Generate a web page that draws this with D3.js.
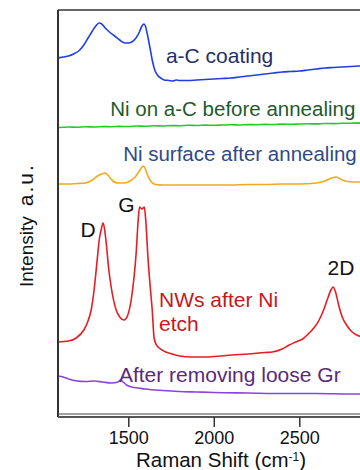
<!DOCTYPE html>
<html>
<head>
<meta charset="utf-8">
<script src="https://cdn.jsdelivr.net/npm/d3@7/dist/d3.min.js"></script>
<style>
  html, body { margin: 0; padding: 0; background: #fff; }
  svg { display: block; font-family: "Liberation Sans", Arial, sans-serif; }
</style>
</head>
<body>
<svg id="chart" width="360" height="470"></svg>
<script>
// ---- Data (Raman shift in cm^-1, intensity in stacked a.u.) ----
const aCShift = [1089,1120,1150,1180,1210,1240,1265,1290,1310,1330,1345,1365,1390,1420,1450,1480,1500,1520,1545,1565,1580,1592,1600,1610,1625,1640,1655,1670,1690,1710,1740,1760,1780,1800,1850,1900,1950,2000,2050,2100,2150,2200,2250,2300,2350,2400,2450,2500,2550,2600,2650,2700,2750,2800,2850,2900];
const aCInt   = [358,359,360,362,365,371,378,385,390,393,392,388,384,380,376,373,373,374,378,384,390,392,390,383,370,356,346,341,338,336,335.5,335,336,335.5,335.5,336,336.5,337,337.5,338,339,340,341,342,343,344,344.5,345,346,347,348,348.5,349,349.5,350,350.5];

const niShift = [1089,1150,1200,1250,1300,1350,1400,1450,1500,1550,1600,1650,1700,1750,1800,1850,1900,1950,2000,2050,2100,2150,2200,2250,2300,2350,2400,2450,2500,2550,2600,2650,2700,2750,2800,2850,2900];
const niInt   = [288.5,289,288.7,289.2,289,289.4,289.3,289.6,289.5,290,289.8,290.2,290,290.4,290.3,290.8,290.5,290.9,290.7,291,291.2,291,291.4,291.3,291.6,291.5,291.9,291.7,292,292.2,292.1,292.5,292.4,292.7,292.8,292.9,293];

const annShift = [1089,1150,1200,1250,1290,1320,1345,1365,1385,1410,1440,1480,1510,1540,1565,1580,1590,1600,1615,1635,1660,1700,1800,1900,2000,2100,2200,2300,2400,2500,2600,2650,2690,2715,2740,2780,2850,2900];
const annInt   = [232,232,232.5,233,236,240,242,243,240,235,233,233,235,239,245,249,250,247,240,234,231.5,231,231,231,231,231,231.5,231.5,232,232,233,235,238,239,237,234.5,234,234];

const nwShift = [1089,1150,1195,1240,1260,1283,1300,1318,1330,1341,1353,1362,1371,1385,1400,1429,1450,1476,1495,1517,1535,1546,1558,1566,1580,1594,1602,1616,1630,1640,1651,1665,1681,1720,1757,1800,1874,1950,2000,2108,2200,2300,2342,2400,2441,2480,2520,2558,2590,2616,2640,2663,2685,2698,2712,2733,2751,2780,2809,2850,2900];
const nwInt   = [74,75,78,86,93,106,126,156,176,186,193,186,173,148,129,106,99,96,100,116,141,163,196,209,207,209,196,156,126,106,78,71,68,64,62,60,59,59,59.5,61,62,63.5,64,67,71,74,77,83,89,96,105,116,126,129,124,109,99,90,84,80,78];

const grShift = [1089,1120,1150,1200,1250,1300,1350,1400,1440,1455,1470,1490,1520,1560,1600,1700,1800,1900,2000,2200,2400,2600,2800,2900];
const grInt   = [40,39,37,35,34.5,35,34,33,34,36,34,31,29,28,27,25.5,24.5,24,23.5,23,22.5,22.5,22,22];

const xTicks = [1500, 2000, 2500];

const seriesLabels = [
  {text: "a-C coating", x: 1720, y: 353, color: "#1f3068", size: 21},
  {text: "Ni on a-C before annealing", x: 1395, y: 300, color: "#1e5a2e", size: 20.5},
  {text: "Ni surface after annealing", x: 1470, y: 255, color: "#2d4a8a", size: 20.5},
  {text: "NWs after Ni", x: 1680, y: 109, color: "#c8161c", size: 21},
  {text: "etch", x: 1680, y: 85, color: "#c8161c", size: 21},
  {text: "After removing loose Gr", x: 1445, y: 34, color: "#5a2a7a", size: 21}
];
const peakLabels = [
  {text: "D", x: 1220, y: 179},
  {text: "G", x: 1442, y: 204},
  {text: "2D", x: 2665, y: 141}
];

// ---- Chart ----
const svg = d3.select("#chart");
const plotLeft = 58, plotTop = 10, plotBottom = 417;

const x = d3.scaleLinear().domain([1089, 2900]).range([plotLeft, plotLeft + (2900 - 1089) * 0.171]);
const y = d3.scaleLinear().domain([0, 406]).range([416, 10]);

const series = [
  {sx: aCShift, sy: aCInt, color: "#1f3fe0"},
  {sx: niShift, sy: niInt, color: "#22cc22"},
  {sx: annShift, sy: annInt, color: "#f2a91e"},
  {sx: nwShift, sy: nwInt, color: "#e51d24"},
  {sx: grShift, sy: grInt, color: "#8a44dc"}
];

const line = d3.line().x(d => x(d[0])).y(d => y(d[1])).curve(d3.curveMonotoneX);

const g = svg.append("g");
series.forEach(s => {
  const pts = s.sx.map((v, i) => [v, s.sy[i]]);
  g.append("path").datum(pts)
    .attr("fill", "none")
    .attr("stroke", s.color)
    .attr("stroke-width", 1.6)
    .attr("stroke-linejoin", "round")
    .attr("d", line);
});

// frame
svg.append("line").attr("x1", plotLeft).attr("x2", 360).attr("y1", plotTop).attr("y2", plotTop)
  .attr("stroke", "#333").attr("stroke-width", 1.5);
svg.append("line").attr("x1", plotLeft).attr("x2", plotLeft).attr("y1", plotTop).attr("y2", plotBottom)
  .attr("stroke", "#333").attr("stroke-width", 2);
svg.append("line").attr("x1", plotLeft).attr("x2", 360).attr("y1", 414).attr("y2", 414)
  .attr("stroke", "#444").attr("stroke-width", 1);

// x axis
const xAxis = d3.axisBottom(x).tickValues(xTicks).tickSize(10).tickPadding(4).tickFormat(d3.format("d"));
const ax = svg.append("g").attr("transform", `translate(0,${plotBottom})`).call(xAxis);
ax.select(".domain").attr("stroke", "#555").attr("stroke-width", 2)
  .attr("d", `M${plotLeft},0H370`);
ax.selectAll(".tick line").attr("stroke", "#333").attr("stroke-width", 1.5);
ax.selectAll(".tick text").attr("fill", "#111").style("font-size", "18px")
  .style("font-family", '"Liberation Sans", Arial, sans-serif');

// axis titles
const xt = svg.append("text").attr("x", 221).attr("y", 467).attr("text-anchor", "middle")
  .style("font-size", "20.5px").attr("fill", "#111");
xt.append("tspan").text("Raman Shift (cm");
xt.append("tspan").attr("dy", -6).style("font-size", "12px").text("-1");
xt.append("tspan").attr("dy", 6).text(")");

const yt = svg.append("text").attr("transform", "translate(33,287) rotate(-90)")
  .attr("text-anchor", "start").style("font-size", "19px").attr("fill", "#111");
yt.append("tspan").text("Intensity");
yt.append("tspan").attr("dx", 10).style("font-size", "21px").style("letter-spacing", "2px").text("a.u.");

// labels
svg.selectAll(".slab").data(seriesLabels).enter().append("text")
  .attr("x", d => x(d.x)).attr("y", d => y(d.y))
  .attr("fill", d => d.color).style("font-size", d => d.size + "px").text(d => d.text);
svg.selectAll(".plab").data(peakLabels).enter().append("text")
  .attr("x", d => x(d.x)).attr("y", d => y(d.y))
  .attr("fill", "#111").style("font-size", "21px").text(d => d.text);
</script>
</body>
</html>
